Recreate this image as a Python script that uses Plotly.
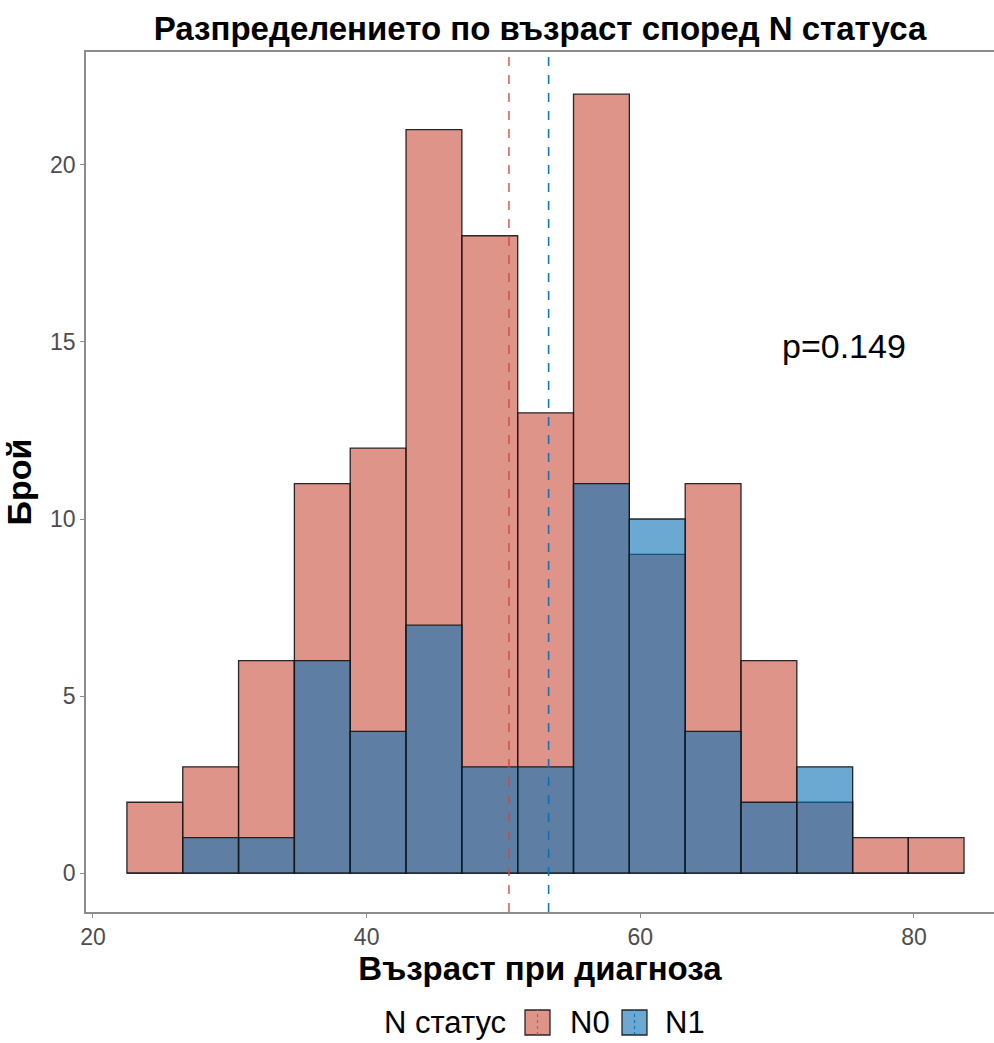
import plotly.graph_objects as go

# Age histogram bins (centres, years) and counts per N status
bin_centers = [24.52, 28.60, 32.68, 36.76, 40.84, 44.92, 49.00, 53.08,
               57.16, 61.24, 65.32, 69.40, 73.48, 77.55, 81.62]
bin_width = 4.08
counts_n0 = [2, 3, 6, 11, 12, 21, 18, 13, 22, 9, 11, 6, 2, 1, 1]
counts_n1 = [0, 1, 1, 6, 4, 7, 3, 3, 11, 10, 4, 2, 3, 0, 0]
group_names = ["N0", "N1"]

# Mean age per group
mean_n0 = 50.4
mean_n1 = 53.3
p_value_text = "p=0.149"

x_ticks = [20, 40, 60, 80]
y_ticks = [0, 5, 10, 15, 20]

red = "201,76,60"
blue = "10,112,180"
font = "Liberation Sans, Arial, sans-serif"
edge = "rgba(20,20,20,0.9)"

# Plot-area geometry in pixels, used to place the hand-drawn legend
W, H = 994, 1043
L, R, T, B = 86, 0, 52, 131
pw, ph = W - L - R, H - T - B


def px_x(px):
    return (px - L) / pw


def px_y(py):
    return (H - B - py) / ph


fig = go.Figure()
fig.add_trace(go.Bar(
    x=bin_centers, y=counts_n0, width=bin_width, name=group_names[0],
    marker=dict(color=f"rgba({red},0.6)", line=dict(color=edge, width=1.3)),
))
fig.add_trace(go.Bar(
    x=bin_centers, y=counts_n1, width=bin_width, name=group_names[1],
    marker=dict(color=f"rgba({blue},0.6)", line=dict(color=edge, width=1.3)),
))

# Dashed mean lines spanning the panel
for m, c in [(mean_n0, f"rgba({red},0.85)"), (mean_n1, f"rgba({blue},0.95)")]:
    fig.add_shape(type="line", x0=m, x1=m, y0=0, y1=1, xref="x", yref="paper",
                  line=dict(color=c, width=1.6, dash="dash"))

fig.add_annotation(x=74.9, y=14.9, text=p_value_text, showarrow=False,
                   font=dict(family=font, size=34, color="black"))

# Legend below the plot: title, then a filled key with a dashed mean line per group
fig.add_annotation(x=px_x(508), y=px_y(1022), xref="paper", yref="paper",
                   xanchor="right", yanchor="middle", showarrow=False,
                   text="N статус", font=dict(family=font, size=31, color="black"))
keys = [(525, 568, red, group_names[0]), (622, 663, blue, group_names[1])]
for kx, tx, col, name in keys:
    fig.add_shape(type="rect", xref="paper", yref="paper",
                  x0=px_x(kx), x1=px_x(kx + 25), y0=px_y(1035), y1=px_y(1010),
                  fillcolor=f"rgba({col},0.6)", line=dict(color=edge, width=1.3))
    fig.add_shape(type="line", xref="paper", yref="paper",
                  x0=px_x(kx + 12.5), x1=px_x(kx + 12.5), y0=px_y(1035), y1=px_y(1010),
                  line=dict(color=f"rgba({col},0.9)", width=1.2, dash="dot"))
    fig.add_annotation(x=px_x(tx), y=px_y(1022), xref="paper", yref="paper",
                       xanchor="left", yanchor="middle", showarrow=False,
                       text=name, font=dict(family=font, size=31, color="black"))

axis_style = dict(showgrid=False, zeroline=False, showline=True,
                  linecolor="#8c8c8c", linewidth=1.5, ticks="outside",
                  ticklen=4, tickcolor="#8c8c8c",
                  tickfont=dict(family=font, size=23, color="#4d4d4d"))

fig.update_layout(
    width=W, height=H,
    margin=dict(l=L, r=R, t=T, b=B),
    barmode="overlay",
    showlegend=False,
    plot_bgcolor="white", paper_bgcolor="white",
    title=dict(text="<b>Разпределението по възраст според N статуса</b>",
               x=0.5, xref="paper", xanchor="center",
               y=1 - 28 / H, yanchor="middle",
               font=dict(family=font, size=33, color="black")),
    xaxis=dict(range=[19.49, 85.85], tickvals=x_ticks, mirror=True,
               title=dict(text="<b>Възраст при диагноза</b>", standoff=6,
                          font=dict(family=font, size=33, color="black")),
               **axis_style),
    yaxis=dict(range=[-1.10, 23.19], tickvals=y_ticks,
               title=dict(text="<b>Брой</b>", standoff=10,
                          font=dict(family=font, size=34, color="black")),
               **axis_style),
)

fig.write_html("out.html")
